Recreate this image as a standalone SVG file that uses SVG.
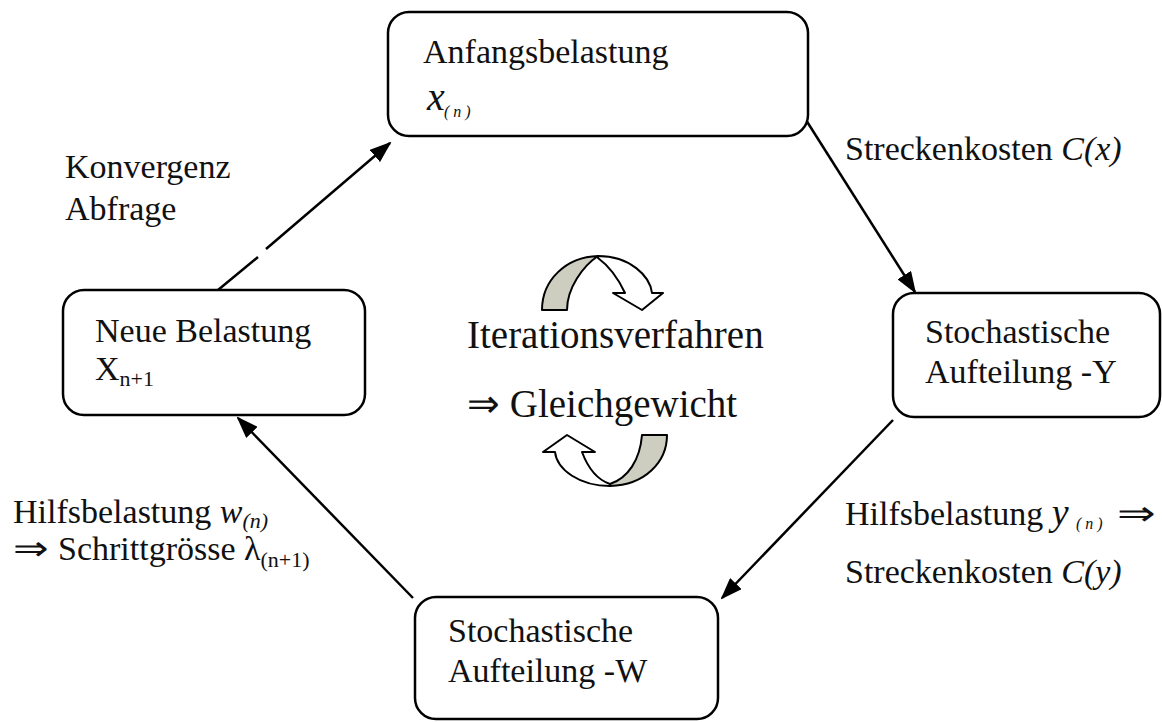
<svg xmlns="http://www.w3.org/2000/svg" width="1162" height="722" viewBox="0 0 1162 722">
  <defs>
    <marker id="arrow" markerWidth="22" markerHeight="16" refX="20" refY="8" orient="auto" markerUnits="userSpaceOnUse">
      <path d="M0,0 L22,8 L0,16 Z" fill="#000"/>
    </marker>
    <style>
      text { font-family: "Liberation Serif", "Times New Roman", serif; font-size: 34px; fill: #111; }
      .box { fill: #fff; stroke: #000; stroke-width: 2.5; }
      .edge { fill: none; stroke: #000; stroke-width: 2.5; }
      .it { font-style: italic; }
      .sub { font-size: 22px; }
      .tiny { font-size: 16px; font-style: italic; letter-spacing: 4px; }
      .big { font-size: 39px; }
      .cw { fill: #fff; stroke: #000; stroke-width: 2; stroke-linejoin: round; }
      .cg { fill: #cdcdc0; stroke: #000; stroke-width: 2; stroke-linejoin: round; }
    </style>
  </defs>
  <rect width="1162" height="722" fill="#fff"/>

  <!-- connectors -->
  <g id="connectors">
    <line class="edge" x1="218" y1="290" x2="258" y2="257"/>
    <line class="edge" x1="266" y1="249" x2="390" y2="143" marker-end="url(#arrow)"/>
    <line class="edge" x1="806" y1="120" x2="915" y2="292" marker-end="url(#arrow)"/>
    <line class="edge" x1="893" y1="420" x2="722" y2="598" marker-end="url(#arrow)"/>
    <line class="edge" x1="413" y1="598" x2="238" y2="418" marker-end="url(#arrow)"/>
  </g>

  <!-- nodes -->
  <g id="node-start">
    <rect class="box" x="388" y="12" width="420" height="124" rx="21"/>
    <text x="423" y="63">Anfangsbelastung</text>
    <text x="427" y="110" class="it" style="font-size:40px">x</text>
    <text x="444" y="117" class="tiny">(n)</text>
  </g>

  <g id="node-new">
    <rect class="box" x="63" y="290" width="302" height="125" rx="21"/>
    <text x="95" y="342">Neue Belastung</text>
    <text x="95" y="380">X<tspan class="sub" dy="6">n+1</tspan></text>
  </g>

  <g id="node-y">
    <rect class="box" x="893" y="293" width="267" height="124" rx="21"/>
    <text x="925" y="343">Stochastische</text>
    <text x="925" y="383">Aufteilung -Y</text>
  </g>

  <g id="node-w">
    <rect class="box" x="415" y="597" width="303" height="122" rx="21"/>
    <text x="448" y="642">Stochastische</text>
    <text x="448" y="682">Aufteilung -W</text>
  </g>

  <!-- edge labels -->
  <g id="labels">
    <text x="845" y="160">Streckenkosten <tspan class="it">C(x)</tspan></text>
    <text x="65" y="178">Konvergenz</text>
    <text x="65" y="220">Abfrage</text>
    <text x="13" y="523">Hilfsbelastung <tspan class="it">w</tspan><tspan class="it sub" dy="5">(n)</tspan></text>
    <text x="13" y="560" textLength="35" lengthAdjust="spacingAndGlyphs">⇒</text>
    <text x="58" y="560">Schrittgrösse λ<tspan class="sub" dy="7">(n+1)</tspan></text>
    <text x="845" y="525">Hilfsbelastung <tspan class="it" style="font-size:38px">y</tspan></text>
    <text x="1076" y="529" class="tiny">(n)</text>
    <text x="1117" y="525" textLength="38" lengthAdjust="spacingAndGlyphs">⇒</text>
    <text x="845" y="583">Streckenkosten <tspan class="it">C(y)</tspan></text>
  </g>

  <!-- centre: iteration symbol -->
  <g id="node-iteration">
    <!-- upper curved arrow -->
    <path class="cw" d="M598,256 C630,256 650,276 652,293 L663,293 L642,310 L613,293 L625,293 C618,278 609,266 598,258 Z"/>
    <path class="cg" d="M542,310 C542,280 566,257 598,256 C583,266 567,288 567,310 Z"/>
    <text x="467" y="348" class="big">Iterationsverfahren</text>
    <text x="467" y="417" class="big">⇒ Gleichgewicht</text>
    <!-- lower curved arrow -->
    <path class="cw" d="M610,486 C580,486 557,470 555,452 L543,452 L567,435 L595,452 L582,452 C588,468 598,480 610,484 Z"/>
    <path class="cg" d="M667,435 L642,435 C640,460 628,478 610,484 L610,486 C645,485 667,462 667,435 Z"/>
  </g>
</svg>
